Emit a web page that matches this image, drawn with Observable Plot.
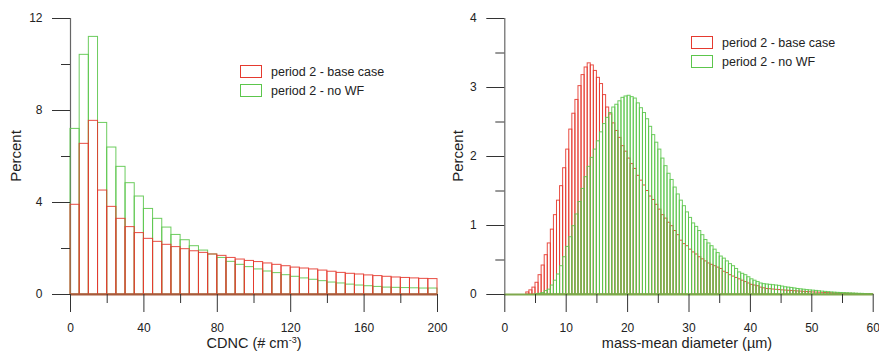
<!DOCTYPE html>
<html>
<head>
<meta charset="utf-8">
<script src="https://cdn.jsdelivr.net/npm/d3@7"></script>
<script src="https://cdn.jsdelivr.net/npm/@observablehq/plot@0.6"></script>
<style>
  html, body { margin: 0; padding: 0; background: #fff; }
  #wrap { position: relative; width: 879px; height: 352px; font-family: "Liberation Sans", Arial, sans-serif; color: #222; }
  .panel { position: absolute; top: 0; }
  .ylab { position: absolute; font-size: 15px; transform: translate(-50%, -50%) rotate(-90deg); white-space: nowrap; }
  .xlab { position: absolute; font-size: 14.5px; transform: translate(-50%, -50%); white-space: nowrap; }
  .xlab sup { font-size: 9px; vertical-align: 5px; line-height: 0; }
  .leg { position: absolute; font-size: 12.5px; }
  .leg .row { display: flex; align-items: center; height: 19px; }
  .leg .sw { width: 22px; height: 13px; box-sizing: border-box; border: 1.3px solid; margin-right: 9px; }
</style>
</head>
<body>
<div id="wrap"></div>
<script>
// ---------- data ----------
// Left panel: CDNC histogram, bins of 5 # cm-3 from 0 to 200
const cdncBinWidth = 5;
const cdncBase = [3.90, 6.55, 7.55, 4.52, 3.81, 3.29, 2.93, 2.67, 2.42, 2.29,
                  2.16, 2.06, 1.97, 1.88, 1.81, 1.74, 1.68, 1.59, 1.52, 1.46,
                  1.41, 1.35, 1.29, 1.23, 1.17, 1.13, 1.09, 1.04, 0.99, 0.94,
                  0.90, 0.87, 0.83, 0.80, 0.77, 0.74, 0.72, 0.70, 0.68, 0.67];
const cdncNoWF = [7.20, 10.42, 11.20, 7.46, 6.39, 5.55, 4.84, 4.26, 3.72, 3.29,
                  2.91, 2.59, 2.36, 2.10, 1.91, 1.74, 1.59, 1.42, 1.29, 1.19,
                  1.09, 1.00, 0.93, 0.84, 0.77, 0.70, 0.64, 0.58, 0.52, 0.48,
                  0.43, 0.39, 0.36, 0.33, 0.30, 0.29, 0.28, 0.27, 0.26, 0.26];

// Right panel: mass-mean diameter histogram, bins of 0.5 µm from 0 to 60
const diamBinWidth = 0.5;
const diamBase = [0, 0, 0, 0, 0, 0, 0, 0.03, 0.06, 0.10,
                  0.17, 0.28, 0.42, 0.57, 0.74, 0.94, 1.15, 1.36, 1.57, 1.83,
                  2.10, 2.39, 2.62, 2.82, 3.02, 3.18, 3.29, 3.35, 3.32, 3.24,
                  3.14, 3.05, 2.89, 2.71, 2.61, 2.48, 2.37, 2.27, 2.15, 2.07,
                  1.97, 1.89, 1.82, 1.72, 1.65, 1.58, 1.50, 1.42, 1.37, 1.30,
                  1.23, 1.15, 1.10, 1.04, 0.99, 0.92, 0.86, 0.78, 0.73, 0.70,
                  0.65, 0.61, 0.58, 0.54, 0.51, 0.48, 0.45, 0.43, 0.41, 0.39,
                  0.37, 0.33, 0.31, 0.28, 0.26, 0.24, 0.22, 0.20, 0.18, 0.16,
                  0.14, 0.13, 0.12, 0.10, 0.09, 0.08, 0.077, 0.072, 0.068, 0.064,
                  0.060, 0.057, 0.054, 0.051, 0.048, 0.045, 0.042, 0.039, 0.036, 0.033,
                  0.030, 0.028, 0.026, 0.024, 0.022, 0.020, 0.018, 0.016, 0.015, 0.013,
                  0.012, 0.011, 0.010, 0.009, 0.008, 0.007, 0.006, 0.005, 0.004, 0.004];
const diamNoWF = [0, 0, 0, 0, 0, 0, 0, 0, 0, 0,
                  0.005, 0.01, 0.02, 0.05, 0.07, 0.13, 0.20, 0.29, 0.41, 0.54,
                  0.69, 0.83, 0.99, 1.16, 1.34, 1.53, 1.70, 1.85, 1.98, 2.10,
                  2.22, 2.35, 2.47, 2.56, 2.63, 2.71, 2.75, 2.80, 2.85, 2.87,
                  2.88, 2.86, 2.84, 2.77, 2.70, 2.63, 2.54, 2.43, 2.31, 2.20,
                  2.10, 1.97, 1.86, 1.75, 1.66, 1.55, 1.45, 1.36, 1.28, 1.19,
                  1.11, 1.03, 0.98, 0.92, 0.86, 0.79, 0.74, 0.70, 0.65, 0.60,
                  0.55, 0.52, 0.48, 0.44, 0.41, 0.37, 0.32, 0.30, 0.28, 0.25,
                  0.22, 0.20, 0.18, 0.16, 0.15, 0.145, 0.14, 0.135, 0.13, 0.125,
                  0.115, 0.105, 0.10, 0.095, 0.088, 0.080, 0.075, 0.070, 0.064, 0.060,
                  0.056, 0.052, 0.047, 0.042, 0.038, 0.034, 0.030, 0.027, 0.024, 0.022,
                  0.020, 0.018, 0.016, 0.014, 0.012, 0.010, 0.009, 0.007, 0.006, 0.005];

// axis ticks
const cdncMajorTicks = [0, 40, 80, 120, 160, 200];
const cdncMinorTicks = [20, 60, 100, 140, 180];
const cdncYMajor = [0, 4, 8, 12];
const cdncYMinor = [2, 6, 10];
const diamMajorTicks = [0, 10, 20, 30, 40, 50, 60];
const diamMinorTicks = [5, 15, 25, 35, 45, 55];
const diamYMajor = [0, 1, 2, 3, 4];
const diamYMinor = [0.5, 1.5, 2.5, 3.5];

const seriesNames = ["period 2 - base case", "period 2 - no WF"];
const RED = "#e53a2f";
const GREEN = "#5cc64c";
const AX = "#333";

function toBins(values, w) {
  return values.map((v, i) => ({x1: i * w, x2: (i + 1) * w, y: v}));
}

function panel({base, noWF, w, xDomain, yDomain, xMajor, xMinor, yMajor, yMinor, width, marginLeft, marginRight, redOnTop, baseColor}) {
  const redMark = Plot.rectY(toBins(base, w), {x1: "x1", x2: "x2", y: "y", fill: "none", stroke: RED, strokeWidth: 1, strokeOpacity: 0.9});
  const greenMark = Plot.rectY(toBins(noWF, w), {x1: "x1", x2: "x2", y: "y", fill: "none", stroke: GREEN, strokeWidth: 1, strokeOpacity: 0.9});
  return Plot.plot({
    width, height: 352,
    marginTop: 18, marginBottom: 58, marginLeft, marginRight,
    x: {domain: xDomain},
    y: {domain: yDomain},
    style: {fontFamily: "'Liberation Sans', Arial, sans-serif", fontSize: "12px", color: "#222", background: "transparent", overflow: "visible"},
    marks: [
      Plot.ruleX([xDomain[0]], {stroke: "#666", strokeWidth: 1.2}),
      ...(redOnTop ? [greenMark, redMark] : [redMark, greenMark]),
      Plot.ruleY([yDomain[0]], {stroke: baseColor, strokeWidth: 2}),
      Plot.axisY({ticks: yMajor, tickSize: 18, tickPadding: 10, tickFormat: d3.format("d"), stroke: AX, label: null, fontSize: 12}),
      Plot.axisY({ticks: yMinor, tickSize: 9, tickFormat: () => "", stroke: AX, label: null}),
      Plot.axisX({ticks: xMajor, tickSize: 18, tickPadding: 11, tickFormat: d3.format("d"), stroke: AX, label: null, fontSize: 12}),
      Plot.axisX({ticks: xMinor, tickSize: 9, tickFormat: () => "", stroke: AX, label: null})
    ]
  });
}

const wrap = document.getElementById("wrap");

const left = panel({base: cdncBase, noWF: cdncNoWF, w: cdncBinWidth, xDomain: [0, 200], yDomain: [0, 12],
  xMajor: cdncMajorTicks, xMinor: cdncMinorTicks, yMajor: cdncYMajor, yMinor: cdncYMinor,
  width: 440, marginLeft: 70, marginRight: 3, redOnTop: true, baseColor: "#a65a3c"});
left.classList.add("panel"); left.style.left = "0px";
wrap.appendChild(left);

const right = panel({base: diamBase, noWF: diamNoWF, w: diamBinWidth, xDomain: [0, 60], yDomain: [0, 4],
  xMajor: diamMajorTicks, xMinor: diamMinorTicks, yMajor: diamYMajor, yMinor: diamYMinor,
  width: 439, marginLeft: 64.3, marginRight: 6.3, redOnTop: false, baseColor: "#7fa84c"});
right.classList.add("panel"); right.style.left = "440px";
wrap.appendChild(right);

function addDiv(cls, html, x, y) {
  const d = document.createElement("div");
  d.className = cls; d.innerHTML = html;
  d.style.left = x + "px"; d.style.top = y + "px";
  wrap.appendChild(d);
  return d;
}
addDiv("ylab", "Percent", 15, 156);
addDiv("ylab", "Percent", 457, 156);
addDiv("xlab", "CDNC (# cm<sup>-3</sup>)", 254, 343);
addDiv("xlab", "mass-mean diameter (µm)", 687, 343);

function legend(x, y) {
  const d = addDiv("leg", "", x, y);
  [[RED, seriesNames[0]], [GREEN, seriesNames[1]]].forEach(([c, t]) => {
    const r = document.createElement("div"); r.className = "row";
    const s = document.createElement("div"); s.className = "sw"; s.style.borderColor = c;
    const l = document.createElement("span"); l.textContent = t;
    r.appendChild(s); r.appendChild(l); d.appendChild(r);
  });
}
legend(240, 62);
legend(691, 33);
</script>
</body>
</html>
